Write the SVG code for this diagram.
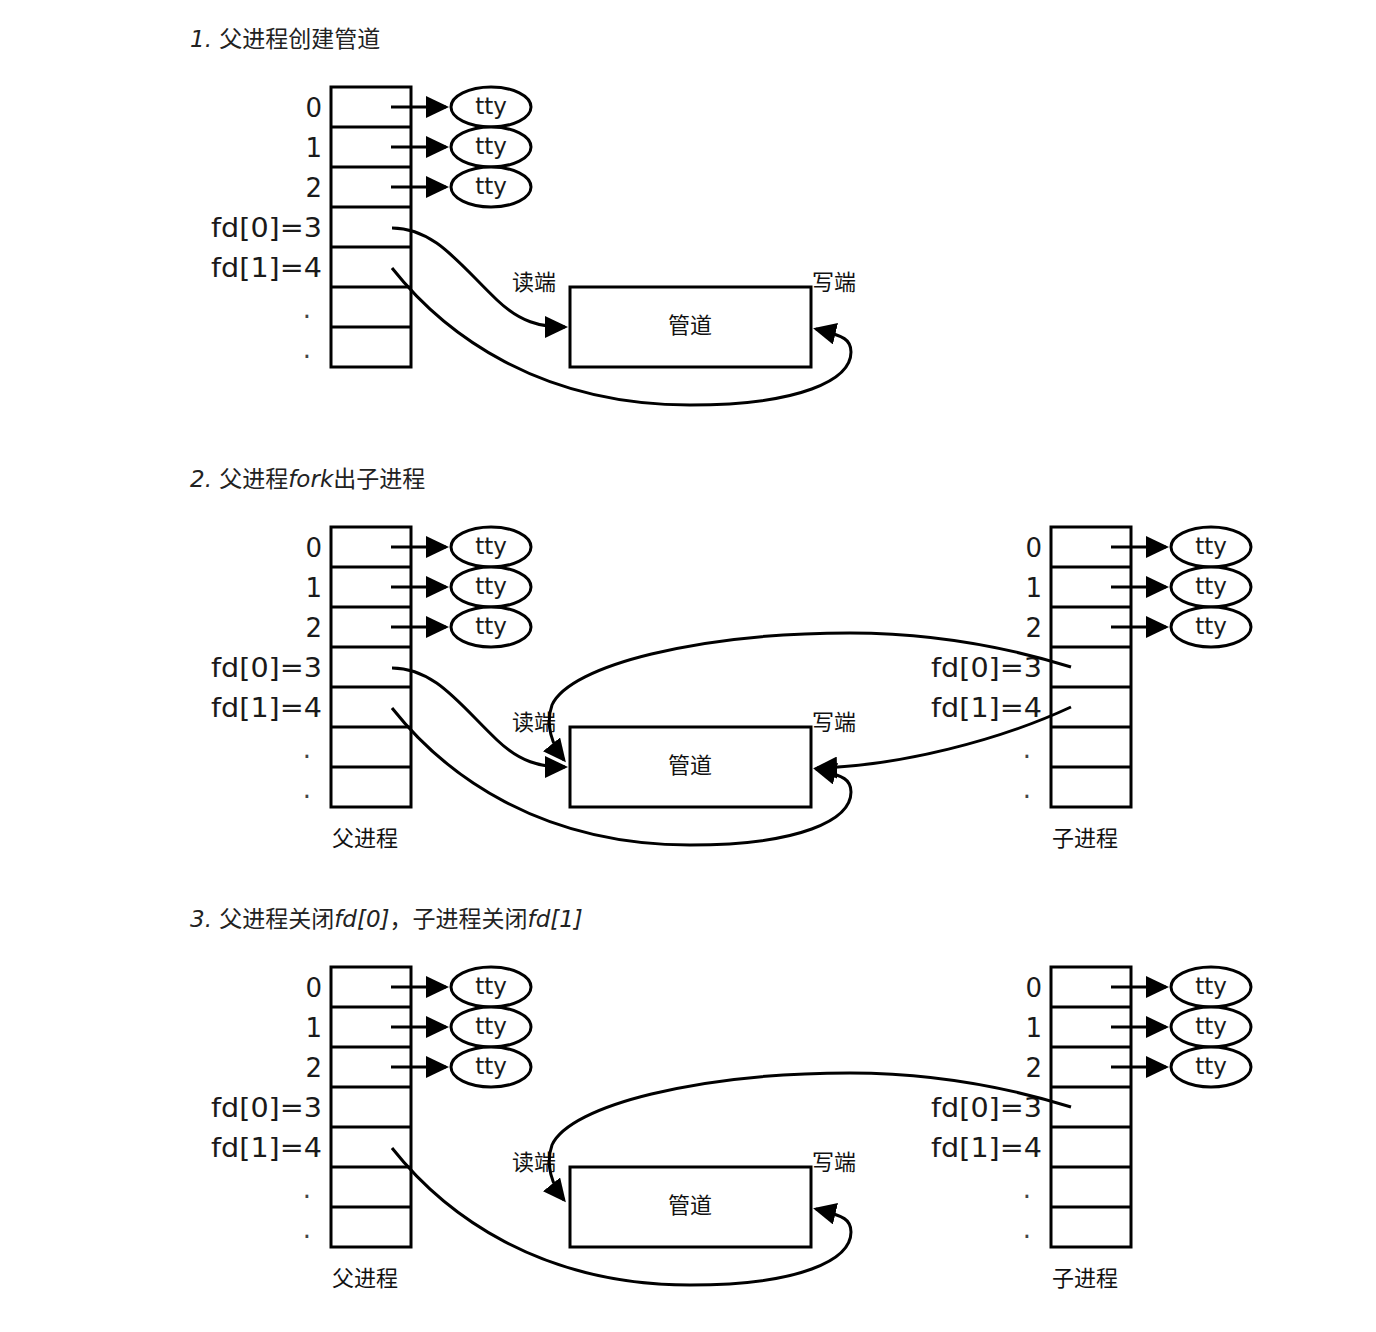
<svg xmlns="http://www.w3.org/2000/svg" width="1376" height="1332" viewBox="0 0 1376 1332">
<defs>
<style>
.bg{fill:#ffffff}
.box{fill:#ffffff;stroke:#000;stroke-width:3}
.row{stroke:#000;stroke-width:3}
.lbl{font-family:"DejaVu Sans","Noto Sans CJK SC",sans-serif;font-size:26px;fill:#1a1a1a;text-anchor:end}
.dot{font-family:"DejaVu Sans",sans-serif;font-size:26px;fill:#444;text-anchor:middle}
.tty{font-family:"DejaVu Sans",sans-serif;font-size:23px;fill:#1a1a1a;text-anchor:middle}
.ell{fill:#fff;stroke:#000;stroke-width:3}
.cn{font-family:"Noto Sans CJK SC","DejaVu Sans",sans-serif;font-size:22px;fill:#111}
.title{font-family:"DejaVu Sans","Noto Sans CJK SC",sans-serif;font-size:23px;fill:#222}
.it{font-style:italic}
.con{fill:none;stroke:#000;stroke-width:3;marker-end:url(#ah)}
</style>
<marker id="ah" markerUnits="userSpaceOnUse" markerWidth="23" markerHeight="22" refX="20" refY="11" orient="auto" viewBox="0 0 23 22">
<path d="M0,0 L23,11 L0,22 z" fill="#000"/>
</marker>
</defs>
<rect class="bg" x="0" y="0" width="1376" height="1332"/>

<!-- Titles -->
<g id="title1"><text class="title" x="190" y="47"><tspan class="it">1. </tspan><tspan font-family="Noto Sans CJK SC,sans-serif">父进程创建管道</tspan></text></g>
<g id="title2"><text class="title" x="190" y="487"><tspan class="it">2. </tspan><tspan font-family="Noto Sans CJK SC,sans-serif">父进程</tspan><tspan class="it">fork</tspan><tspan font-family="Noto Sans CJK SC,sans-serif">出子进程</tspan></text></g>
<g id="title3"><text class="title" x="190" y="927"><tspan class="it">3. </tspan><tspan font-family="Noto Sans CJK SC,sans-serif">父进程关闭</tspan><tspan class="it">fd[0]</tspan><tspan font-family="Noto Sans CJK SC,sans-serif">，子进程关闭</tspan><tspan class="it">fd[1]</tspan></text></g>

<!-- Section 1 -->
<g id="s1-parent-table">
<rect class="box" x="331" y="87" width="80" height="280"/>
<path class="row" d="M331,127H411M331,167H411M331,207H411M331,247H411M331,287H411M331,327H411"/>
<text class="lbl" x="322" y="117">0</text>
<text class="lbl" x="322" y="157">1</text>
<text class="lbl" x="322" y="197">2</text>
<text class="lbl" x="322" y="237" textLength="111" lengthAdjust="spacingAndGlyphs">fd[0]=3</text>
<text class="lbl" x="322" y="277" textLength="111" lengthAdjust="spacingAndGlyphs">fd[1]=4</text>
<text class="dot" x="307" y="318">.</text>
<text class="dot" x="307" y="358">.</text>
</g>
<g id="s1-tty0"><ellipse class="ell" cx="491" cy="107" rx="40" ry="20"/><text class="tty" x="491" y="114">tty</text></g>
<g id="s1-tty1"><ellipse class="ell" cx="491" cy="147" rx="40" ry="20"/><text class="tty" x="491" y="154">tty</text></g>
<g id="s1-tty2"><ellipse class="ell" cx="491" cy="187" rx="40" ry="20"/><text class="tty" x="491" y="194">tty</text></g>
<g id="s1-pipe">
<rect class="box" x="570" y="287" width="241" height="80"/>
<text class="cn" x="690" y="333" text-anchor="middle">管道</text>
<text class="cn" x="512" y="290">读端</text>
<text class="cn" x="812" y="290">写端</text>
</g>

<!-- Section 2 -->
<g id="s2-parent-table">
<rect class="box" x="331" y="527" width="80" height="280"/>
<path class="row" d="M331,567H411M331,607H411M331,647H411M331,687H411M331,727H411M331,767H411"/>
<text class="lbl" x="322" y="557">0</text>
<text class="lbl" x="322" y="597">1</text>
<text class="lbl" x="322" y="637">2</text>
<text class="lbl" x="322" y="677" textLength="111" lengthAdjust="spacingAndGlyphs">fd[0]=3</text>
<text class="lbl" x="322" y="717" textLength="111" lengthAdjust="spacingAndGlyphs">fd[1]=4</text>
<text class="dot" x="307" y="758">.</text>
<text class="dot" x="307" y="798">.</text>
<text class="cn" x="365" y="846" text-anchor="middle">父进程</text>
</g>
<g id="s2-ptty0"><ellipse class="ell" cx="491" cy="547" rx="40" ry="20"/><text class="tty" x="491" y="554">tty</text></g>
<g id="s2-ptty1"><ellipse class="ell" cx="491" cy="587" rx="40" ry="20"/><text class="tty" x="491" y="594">tty</text></g>
<g id="s2-ptty2"><ellipse class="ell" cx="491" cy="627" rx="40" ry="20"/><text class="tty" x="491" y="634">tty</text></g>
<g id="s2-child-table">
<rect class="box" x="1051" y="527" width="80" height="280"/>
<path class="row" d="M1051,567H1131M1051,607H1131M1051,647H1131M1051,687H1131M1051,727H1131M1051,767H1131"/>
<text class="lbl" x="1042" y="557">0</text>
<text class="lbl" x="1042" y="597">1</text>
<text class="lbl" x="1042" y="637">2</text>
<text class="lbl" x="1042" y="677" textLength="111" lengthAdjust="spacingAndGlyphs">fd[0]=3</text>
<text class="lbl" x="1042" y="717" textLength="111" lengthAdjust="spacingAndGlyphs">fd[1]=4</text>
<text class="dot" x="1027" y="758">.</text>
<text class="dot" x="1027" y="798">.</text>
<text class="cn" x="1085" y="846" text-anchor="middle">子进程</text>
</g>
<g id="s2-ctty0"><ellipse class="ell" cx="1211" cy="547" rx="40" ry="20"/><text class="tty" x="1211" y="554">tty</text></g>
<g id="s2-ctty1"><ellipse class="ell" cx="1211" cy="587" rx="40" ry="20"/><text class="tty" x="1211" y="594">tty</text></g>
<g id="s2-ctty2"><ellipse class="ell" cx="1211" cy="627" rx="40" ry="20"/><text class="tty" x="1211" y="634">tty</text></g>
<g id="s2-pipe">
<rect class="box" x="570" y="727" width="241" height="80"/>
<text class="cn" x="690" y="773" text-anchor="middle">管道</text>
<text class="cn" x="512" y="730">读端</text>
<text class="cn" x="812" y="730">写端</text>
</g>

<!-- Section 3 -->
<g id="s3-parent-table">
<rect class="box" x="331" y="967" width="80" height="280"/>
<path class="row" d="M331,1007H411M331,1047H411M331,1087H411M331,1127H411M331,1167H411M331,1207H411"/>
<text class="lbl" x="322" y="997">0</text>
<text class="lbl" x="322" y="1037">1</text>
<text class="lbl" x="322" y="1077">2</text>
<text class="lbl" x="322" y="1117" textLength="111" lengthAdjust="spacingAndGlyphs">fd[0]=3</text>
<text class="lbl" x="322" y="1157" textLength="111" lengthAdjust="spacingAndGlyphs">fd[1]=4</text>
<text class="dot" x="307" y="1198">.</text>
<text class="dot" x="307" y="1238">.</text>
<text class="cn" x="365" y="1286" text-anchor="middle">父进程</text>
</g>
<g id="s3-ptty0"><ellipse class="ell" cx="491" cy="987" rx="40" ry="20"/><text class="tty" x="491" y="994">tty</text></g>
<g id="s3-ptty1"><ellipse class="ell" cx="491" cy="1027" rx="40" ry="20"/><text class="tty" x="491" y="1034">tty</text></g>
<g id="s3-ptty2"><ellipse class="ell" cx="491" cy="1067" rx="40" ry="20"/><text class="tty" x="491" y="1074">tty</text></g>
<g id="s3-child-table">
<rect class="box" x="1051" y="967" width="80" height="280"/>
<path class="row" d="M1051,1007H1131M1051,1047H1131M1051,1087H1131M1051,1127H1131M1051,1167H1131M1051,1207H1131"/>
<text class="lbl" x="1042" y="997">0</text>
<text class="lbl" x="1042" y="1037">1</text>
<text class="lbl" x="1042" y="1077">2</text>
<text class="lbl" x="1042" y="1117" textLength="111" lengthAdjust="spacingAndGlyphs">fd[0]=3</text>
<text class="lbl" x="1042" y="1157" textLength="111" lengthAdjust="spacingAndGlyphs">fd[1]=4</text>
<text class="dot" x="1027" y="1198">.</text>
<text class="dot" x="1027" y="1238">.</text>
<text class="cn" x="1085" y="1286" text-anchor="middle">子进程</text>
</g>
<g id="s3-ctty0"><ellipse class="ell" cx="1211" cy="987" rx="40" ry="20"/><text class="tty" x="1211" y="994">tty</text></g>
<g id="s3-ctty1"><ellipse class="ell" cx="1211" cy="1027" rx="40" ry="20"/><text class="tty" x="1211" y="1034">tty</text></g>
<g id="s3-ctty2"><ellipse class="ell" cx="1211" cy="1067" rx="40" ry="20"/><text class="tty" x="1211" y="1074">tty</text></g>
<g id="s3-pipe">
<rect class="box" x="570" y="1167" width="241" height="80"/>
<text class="cn" x="690" y="1213" text-anchor="middle">管道</text>
<text class="cn" x="512" y="1170">读端</text>
<text class="cn" x="812" y="1170">写端</text>
</g>

<!-- Connectors -->
<g id="connectors">
<path class="con" d="M391,107H446"/>
<path class="con" d="M391,147H446"/>
<path class="con" d="M391,187H446"/>
<path class="con" d="M392,228 C435,228 460,265 497,300 C520,322 540,327 565,327"/>
<path class="con" d="M392,268 C445,335 540,405 690,405 C800,405 851,380 851,352 C851,340 845,336 816,329"/>

<path class="con" d="M391,547H446"/>
<path class="con" d="M391,587H446"/>
<path class="con" d="M391,627H446"/>
<path class="con" d="M1111,547H1166"/>
<path class="con" d="M1111,587H1166"/>
<path class="con" d="M1111,627H1166"/>
<path class="con" d="M392,668 C435,668 460,705 497,740 C520,762 540,767 565,767"/>
<path class="con" d="M392,708 C445,775 540,845 690,845 C800,845 851,820 851,792 C851,780 845,776 816,769"/>
<path class="con" d="M1071,667 C1000,645 930,633 850,633 C700,633 570,665 552,705 C545,725 552,745 564,760"/>
<path class="con" d="M1071,707 C1000,740 900,766 817,768"/>

<path class="con" d="M391,987H446"/>
<path class="con" d="M391,1027H446"/>
<path class="con" d="M391,1067H446"/>
<path class="con" d="M1111,987H1166"/>
<path class="con" d="M1111,1027H1166"/>
<path class="con" d="M1111,1067H1166"/>
<path class="con" d="M392,1148 C445,1215 540,1285 690,1285 C800,1285 851,1260 851,1232 C851,1220 845,1216 816,1209"/>
<path class="con" d="M1071,1107 C1000,1085 930,1073 850,1073 C700,1073 570,1105 552,1145 C545,1165 552,1185 564,1200"/>
</g>
</svg>
